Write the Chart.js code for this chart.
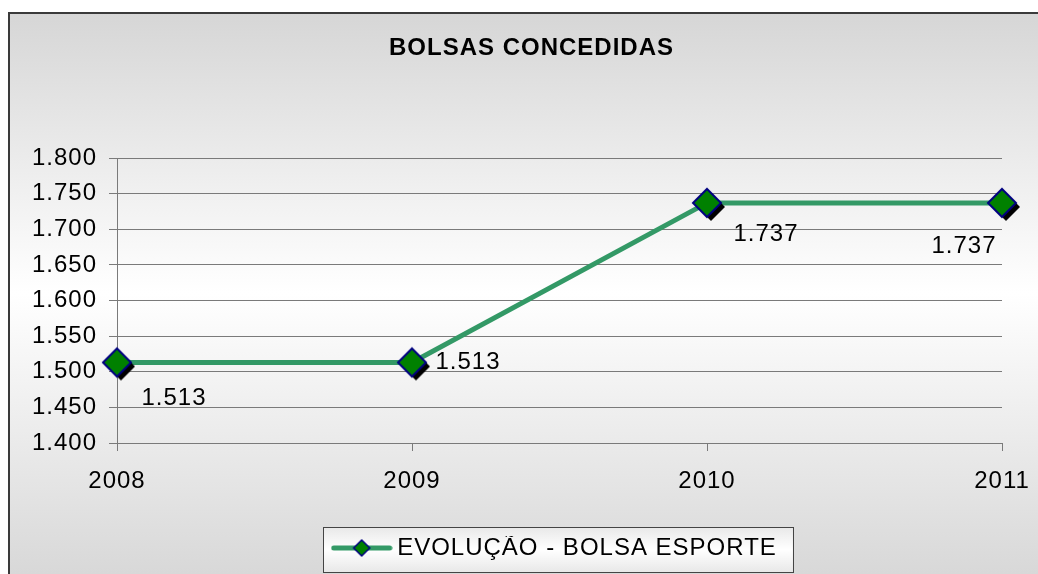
<!DOCTYPE html>
<html><head><meta charset="utf-8">
<script src="https://cdn.jsdelivr.net/npm/chart.js@4/dist/chart.umd.min.js"></script>
<style>html,body{margin:0;padding:0;background:#fff;overflow:hidden}#wrap{width:1038px;height:574px}</style>
</head><body><div id="wrap"><canvas id="c" width="1038" height="574"></canvas></div>
<script>
// ---- data ----
const chartTitle = 'BOLSAS CONCEDIDAS';
const categories = ['2008', '2009', '2010', '2011'];
const seriesName = 'EVOLUÇÃO - BOLSA ESPORTE';
const seriesValues = [1513, 1513, 1737, 1737];
const yTicks = [1400, 1450, 1500, 1550, 1600, 1650, 1700, 1750, 1800];

// ---- style ----
const FONT = '"Liberation Sans", Arial, sans-serif';
const LINE_COLOR = '#339966';
const GRID = '#7a7a7a';
const fmt = v => { const s = String(Math.round(v)); return s.length > 3 ? s.slice(0, -3) + '.' + s.slice(-3) : s; };

function diamondPath(ctx, cx, cy, h) {
  ctx.beginPath(); ctx.moveTo(cx, cy - h); ctx.lineTo(cx + h, cy); ctx.lineTo(cx, cy + h); ctx.lineTo(cx - h, cy); ctx.closePath();
}
// point marker with drop shadow
const marker = document.createElement('canvas');
marker.width = 48; marker.height = 48;
(function () {
  const m = marker.getContext('2d');
  diamondPath(m, 28, 28, 14); m.fillStyle = '#000'; m.fill();
  diamondPath(m, 24, 24, 14); m.fillStyle = '#008000'; m.fill();
  m.lineWidth = 2; m.strokeStyle = '#000080'; m.stroke();
})();
// legend symbol: line with diamond
const legendSym = document.createElement('canvas');
legendSym.width = 62; legendSym.height = 22;
(function () {
  const m = legendSym.getContext('2d');
  m.strokeStyle = LINE_COLOR; m.lineWidth = 5; m.lineCap = 'round';
  m.beginPath(); m.moveTo(3, 11); m.lineTo(59, 11); m.stroke();
  diamondPath(m, 31, 11, 8); m.fillStyle = '#008000'; m.fill();
  m.lineWidth = 1.5; m.strokeStyle = '#000080'; m.stroke();
})();

const spacingPlugin = {
  id: 'spacing',
  beforeLayout(chart) { if ('letterSpacing' in chart.ctx) chart.ctx.letterSpacing = '1px'; },
  beforeDraw(chart) { if ('letterSpacing' in chart.ctx) chart.ctx.letterSpacing = '1px'; },
  afterLayout(chart) {
    if (chart.titleBlock) { chart.titleBlock.left = 61; }
    if (chart.legend) { chart.legend.left -= 2; chart.legend.right -= 2; }
  }
};

const bgPlugin = {
  id: 'bg',
  beforeDraw(chart) {
    const ctx = chart.ctx, W = chart.width, H = chart.height;
    ctx.save();
    ctx.fillStyle = '#fff'; ctx.fillRect(0, 0, W, H);
    const g = ctx.createLinearGradient(0, 13, 0, H);
    g.addColorStop(0, '#d6d6d6'); g.addColorStop(0.5, '#ffffff'); g.addColorStop(1, '#d8d8d8');
    ctx.fillStyle = g; ctx.fillRect(9, 13, W - 9, H - 13);
    ctx.strokeStyle = '#3a3a3a'; ctx.lineWidth = 2;
    ctx.beginPath(); ctx.moveTo(9, H); ctx.lineTo(9, 13); ctx.lineTo(W, 13); ctx.stroke();
    // legend frame
    const hb = chart.legend && chart.legend.legendHitBoxes && chart.legend.legendHitBoxes[0];
    if (hb) {
      const cy = hb.top + hb.height / 2;
      const x0 = hb.left - 15, x1 = hb.left + hb.width + 16, y0 = cy - 21, y1 = cy + 24;
      const lg = ctx.createLinearGradient(0, y0, 0, y1);
      lg.addColorStop(0, '#e8e8e8'); lg.addColorStop(0.5, '#ffffff'); lg.addColorStop(1, '#e8e8e8');
      ctx.fillStyle = lg; ctx.fillRect(x0, y0, x1 - x0, y1 - y0);
      ctx.strokeStyle = '#444'; ctx.lineWidth = 1;
      ctx.strokeRect(Math.round(x0) + 0.5, Math.round(y0) + 0.5, Math.round(x1 - x0), Math.round(y1 - y0));
    }
    ctx.restore();
  }
};

const labelPlugin = {
  id: 'dataLabels',
  afterDatasetsDraw(chart, args, opts) {
    const meta = chart.getDatasetMeta(0), ctx = chart.ctx;
    ctx.save();
    ctx.font = '24px ' + FONT; ctx.fillStyle = '#000';
    ctx.textAlign = 'center'; ctx.textBaseline = 'middle';
    meta.data.forEach((pt, i) => {
      const o = opts.offsets[i];
      ctx.fillText(fmt(seriesValues[i]), pt.x + o[0], pt.y + o[1]);
    });
    ctx.restore();
  }
};

new Chart(document.getElementById('c'), {
  type: 'line',
  data: {
    labels: categories,
    datasets: [{
      label: seriesName,
      data: seriesValues,
      borderColor: LINE_COLOR,
      backgroundColor: '#008000',
      borderWidth: 5,
      tension: 0,
      pointStyle: marker,
      pointRadius: 14,
      pointHoverRadius: 14
    }]
  },
  options: {
    responsive: false,
    devicePixelRatio: 1,
    animation: false,
    events: [],
    layout: { padding: { left: 9, right: 36, top: 0, bottom: 4 } },
    plugins: {
      title: {
        display: true, text: chartTitle, color: '#000',
        font: { family: FONT, size: 24, weight: 'bold', lineHeight: 1.2 },
        padding: { top: 33.6, bottom: 95.6 }
      },
      legend: {
        display: true, position: 'bottom', fullSize: false,
        labels: {
          color: '#000', font: { family: FONT, size: 24 },
          usePointStyle: true, pointStyleWidth: 47, padding: 0,
          generateLabels: (chart) => [{
            text: seriesName, pointStyle: legendSym, fillStyle: '#008000', strokeStyle: '#000080',
            lineWidth: 0, hidden: false, datasetIndex: 0, fontColor: '#000'
          }]
        }
      },
      tooltip: { enabled: false },
      dataLabels: { offsets: [[57, 36], [56, 0], [59, 31], [-38, 43]] }
    },
    scales: {
      x: {
        offset: false,
        afterFit: s => { s.height = 93; s.paddingLeft = 0; s.paddingRight = 0; },
        grid: { display: true, drawOnChartArea: false, drawTicks: true, tickLength: 8, color: GRID },
        border: { display: true, color: GRID, width: 1 },
        ticks: { color: '#000', font: { family: FONT, size: 24 }, padding: 16, maxRotation: 0, autoSkip: false }
      },
      y: {
        min: 1400, max: 1800,
        afterFit: s => { s.width = 108; },
        afterBuildTicks: s => { s.ticks = yTicks.map(v => ({ value: v })); },
        grid: { color: GRID, tickLength: 8, drawTicks: true },
        border: { display: true, color: GRID, width: 1 },
        ticks: { color: '#000', font: { family: FONT, size: 24 }, padding: 12, callback: v => fmt(v) }
      }
    }
  },
  plugins: [spacingPlugin, bgPlugin, labelPlugin]
});
</script>
</body></html>
